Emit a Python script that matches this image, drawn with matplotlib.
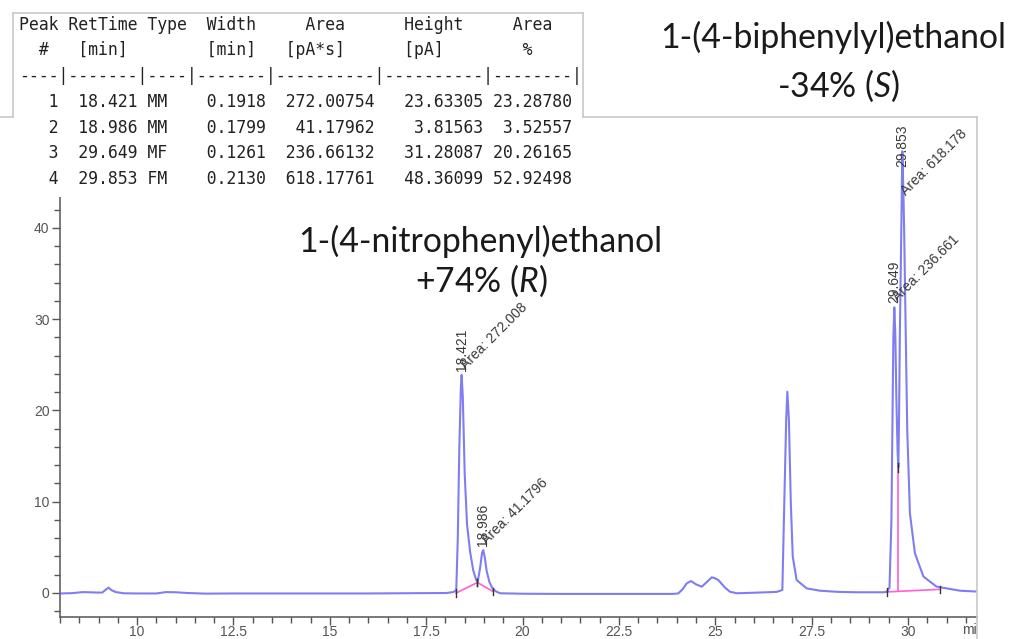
import matplotlib.pyplot as plt
from matplotlib.lines import Line2D
from matplotlib.patches import Rectangle
from matplotlib.ticker import MultipleLocator, FuncFormatter
import numpy as np

# --- 1. DONNÉES DU RAPPORT D'INTÉGRATION ---
peak_num = [1, 2, 3, 4]
ret_time = [18.421, 18.986, 29.649, 29.853]
peak_type = ['MM', 'MM', 'MF', 'FM']
peak_width = [0.1918, 0.1799, 0.1261, 0.2130]
peak_area = [272.00754, 41.17962, 236.66132, 618.17761]
peak_height = [23.63305, 3.81563, 31.28087, 48.36099]
area_pct = [23.28780, 3.52557, 20.26165, 52.92498]

# --- 2. TRACE DU CHROMATOGRAMME ---
time_min = [8.00, 8.30, 8.60, 8.96, 9.10, 9.18, 9.26, 9.34, 9.45, 9.65, 10.0, 10.5,
            10.75, 11.0, 11.3, 11.8, 12.5, 14.2, 16.0, 18.03, 18.20, 18.28, 18.32,
            18.36, 18.40, 18.42, 18.45, 18.50, 18.56, 18.64, 18.72, 18.80, 18.84,
            18.90, 18.95, 18.98, 19.02, 19.07, 19.14, 19.22, 19.32, 19.42, 20.0,
            21.0, 22.0, 23.0, 23.9, 24.04, 24.15, 24.26, 24.37, 24.50, 24.65, 24.78,
            24.91, 25.00, 25.08, 25.25, 25.38, 25.56, 26.0, 26.34, 26.59, 26.74,
            26.79, 26.84, 26.87, 26.91, 26.96, 27.01, 27.11, 27.37, 27.72, 28.2,
            28.67, 29.0, 29.36, 29.45, 29.52, 29.57, 29.60, 29.62, 29.645, 29.67,
            29.70, 29.73, 29.75, 29.77, 29.79, 29.83, 29.853, 29.88, 29.90, 29.94,
            29.98, 30.05, 30.18, 30.40, 30.74, 31.35, 31.82]
signal_pa = [-0.05, -0.02, 0.10, 0.05, 0.05, 0.35, 0.58, 0.30, 0.10, -0.03, -0.05, -0.05,
             0.10, 0.08, 0.0, -0.07, -0.05, -0.05, -0.05, 0.0, 0.10, 0.30, 6.0,
             16.0, 22.5, 23.9, 21.5, 13.0, 7.5, 4.5, 2.5, 1.4, 1.3,
             2.8, 4.4, 4.7, 3.9, 2.4, 1.2, 0.5, 0.15, -0.03, -0.08,
             -0.10, -0.10, -0.10, -0.10, -0.05, 0.40, 1.06, 1.31, 0.95, 0.69, 1.20,
             1.72, 1.60, 1.42, 0.60, 0.14, -0.03, 0.03, 0.08, 0.12, 0.33,
             9.8, 19.0, 22.06, 19.0, 9.8, 4.0, 1.42, 0.51, 0.25, 0.12,
             0.08, 0.08, 0.08, 0.12, 0.60, 8.0, 20.0, 28.0, 31.3, 28.5,
             21.0, 15.5, 13.8, 20.0, 28.8, 41.0, 48.4, 44.0, 39.8, 28.8,
             17.9, 8.7, 4.35, 1.8, 0.7, 0.25, 0.15]

# lignes de base d'intégration (rose) et chute verticale entre pics 3 et 4
base_t = [[18.275, 18.83], [18.83, 19.24], [29.45, 30.83]]
base_y = [[0.0, 1.15], [1.15, 0.15], [0.12, 0.40]]
drop_t = 29.75
drop_y = [0.18, 13.8]

y_major = [0, 10, 20, 30, 40]

# --- 3. FIGURE (coordonnées en pixels de l'image) ---
W, H = 1016, 639
fig = plt.figure(figsize=(W / 100, H / 100), dpi=100)
fig.patch.set_facecolor('white')

def fx(px):
    return px / W

def fy(py):
    return 1 - py / H

plt.rcParams['mathtext.fontset'] = 'custom'
plt.rcParams['mathtext.rm'] = 'Lato'
plt.rcParams['mathtext.it'] = 'Lato:italic'

ax = fig.add_axes([fx(60), fy(617), fx(977) - fx(60), fy(117) - fy(617)])
ax.plot(time_min, signal_pa, color='#6767ef', lw=1.5, alpha=0.85, zorder=3)

for bt, by in zip(base_t, base_y):
    ax.plot(bt, by, color='#ff5fd7', lw=1.2, zorder=2)
    for t, y in zip(bt, by):
        ax.plot([t, t], [y - 0.4, y + 0.4], color='#333333', lw=1, zorder=4)
ax.plot([drop_t, drop_t], drop_y, color='#ff5fd7', lw=1.2, zorder=2)
ax.plot([drop_t, drop_t], [drop_y[1] - 0.5, drop_y[1] + 0.5], color='#333333', lw=1, zorder=4)

# étiquettes des pics
for t, a in zip(ret_time, peak_area):
    i = int(np.argmin(np.abs(np.array(time_min) - t)))
    apex = signal_pa[i]
    ax.annotate(f'{t:.3f}', xy=(t, min(apex, 46.2)), xytext=(0, 4),
                textcoords='offset pixels', rotation=90, ha='center', va='bottom',
                fontsize=10, color='#3a3a3a', family='Liberation Sans')
    ax.annotate(f'Area: {a:.6g}', xy=(t, min(apex, 42.9)), xytext=(6, 3),
                textcoords='offset pixels', rotation=45, rotation_mode='anchor',
                ha='left', va='bottom', fontsize=10, color='#3a3a3a',
                family='Liberation Sans')

ax.set_xlim(8.0, 31.79)
ax.set_ylim(-2.63, 52.16)
ax.xaxis.set_major_locator(MultipleLocator(2.5))
ax.xaxis.set_minor_locator(MultipleLocator(0.5))
ax.set_yticks(y_major)
ax.yaxis.set_minor_locator(MultipleLocator(2))
ax.xaxis.set_major_formatter(FuncFormatter(lambda v, p: f'{v:g}'))
ax.tick_params(which='major', direction='out', length=5.5, width=1, color='#555555',
               labelsize=10, labelcolor='#555555', pad=2)
ax.tick_params(axis='x', which='major', pad=0.5)
ax.tick_params(which='minor', direction='out', length=4, width=1, color='#555555')
for lab in ax.get_xticklabels() + ax.get_yticklabels():
    lab.set_family('Liberation Sans')
for s in ['top', 'right']:
    ax.spines[s].set_visible(False)
for s in ['left', 'bottom']:
    ax.spines[s].set_color('#555555')
    ax.spines[s].set_linewidth(1.1)

t_min = fig.text(fx(962), fy(630), 'min', ha='left', va='center', fontsize=10,
                 color='#555555', family='Liberation Sans')
t_min.set_clip_path(Rectangle((0, 0), fx(977), 1, transform=fig.transFigure))

# --- 4. CADRES DES CAPTURES ---
fig.add_artist(Rectangle((0, fy(197)), fx(588), fy(110) - fy(197), transform=fig.transFigure,
                         facecolor='white', edgecolor='none', zorder=5))
gray = '#c8c8c8'
for xs, ys in [([13, 583], [13, 13]), ([13, 13], [13, 117]), ([583, 583], [13, 117]),
               ([0, 13], [117, 117]), ([583, 977], [117, 117]), ([977, 977], [117, 639])]:
    fig.add_artist(Line2D([fx(x) for x in xs], [fy(y) for y in ys], color=gray, lw=1.2,
                          transform=fig.transFigure, zorder=6))

# --- 5. TABLEAU DU RAPPORT ---
lines = ["Peak RetTime Type  Width     Area      Height     Area  ",
         "  #   [min]        [min]   [pA*s]      [pA]        %   ",
         "----|-------|----|-------|----------|----------|--------|"]
for n, t, ty, w, a, h, p in zip(peak_num, ret_time, peak_type, peak_width,
                                peak_area, peak_height, area_pct):
    lines.append(f"{n:4d} {t:7.3f} {ty:<4s} {w:7.4f} {a:10.5f} {h:10.5f} {p:8.5f}")
for k, line in enumerate(lines):
    fig.text(fx(19), fy(29.5 + k * 25.8), line, ha='left', va='baseline',
             family='DejaVu Sans Mono', fontsize=11.9, color='#222222', zorder=7)

# --- 6. ANNOTATIONS DES COMPOSÉS ---
big = dict(ha='center', va='baseline', family='Lato', fontsize=24.3, color='#1a1a1a', zorder=7)
fig.text(fx(833.5), fy(48.3), '1-(4-biphenylyl)ethanol', **big)
fig.text(fx(839), fy(96.7), '-34% ($S$)', **big)
fig.text(fx(480), fy(251.7), '1-(4-nitrophenyl)ethanol', **big)
fig.text(fx(481.7), fy(291.7), '+74% ($R$)', **big)

fig.savefig('out.png', dpi=100)
